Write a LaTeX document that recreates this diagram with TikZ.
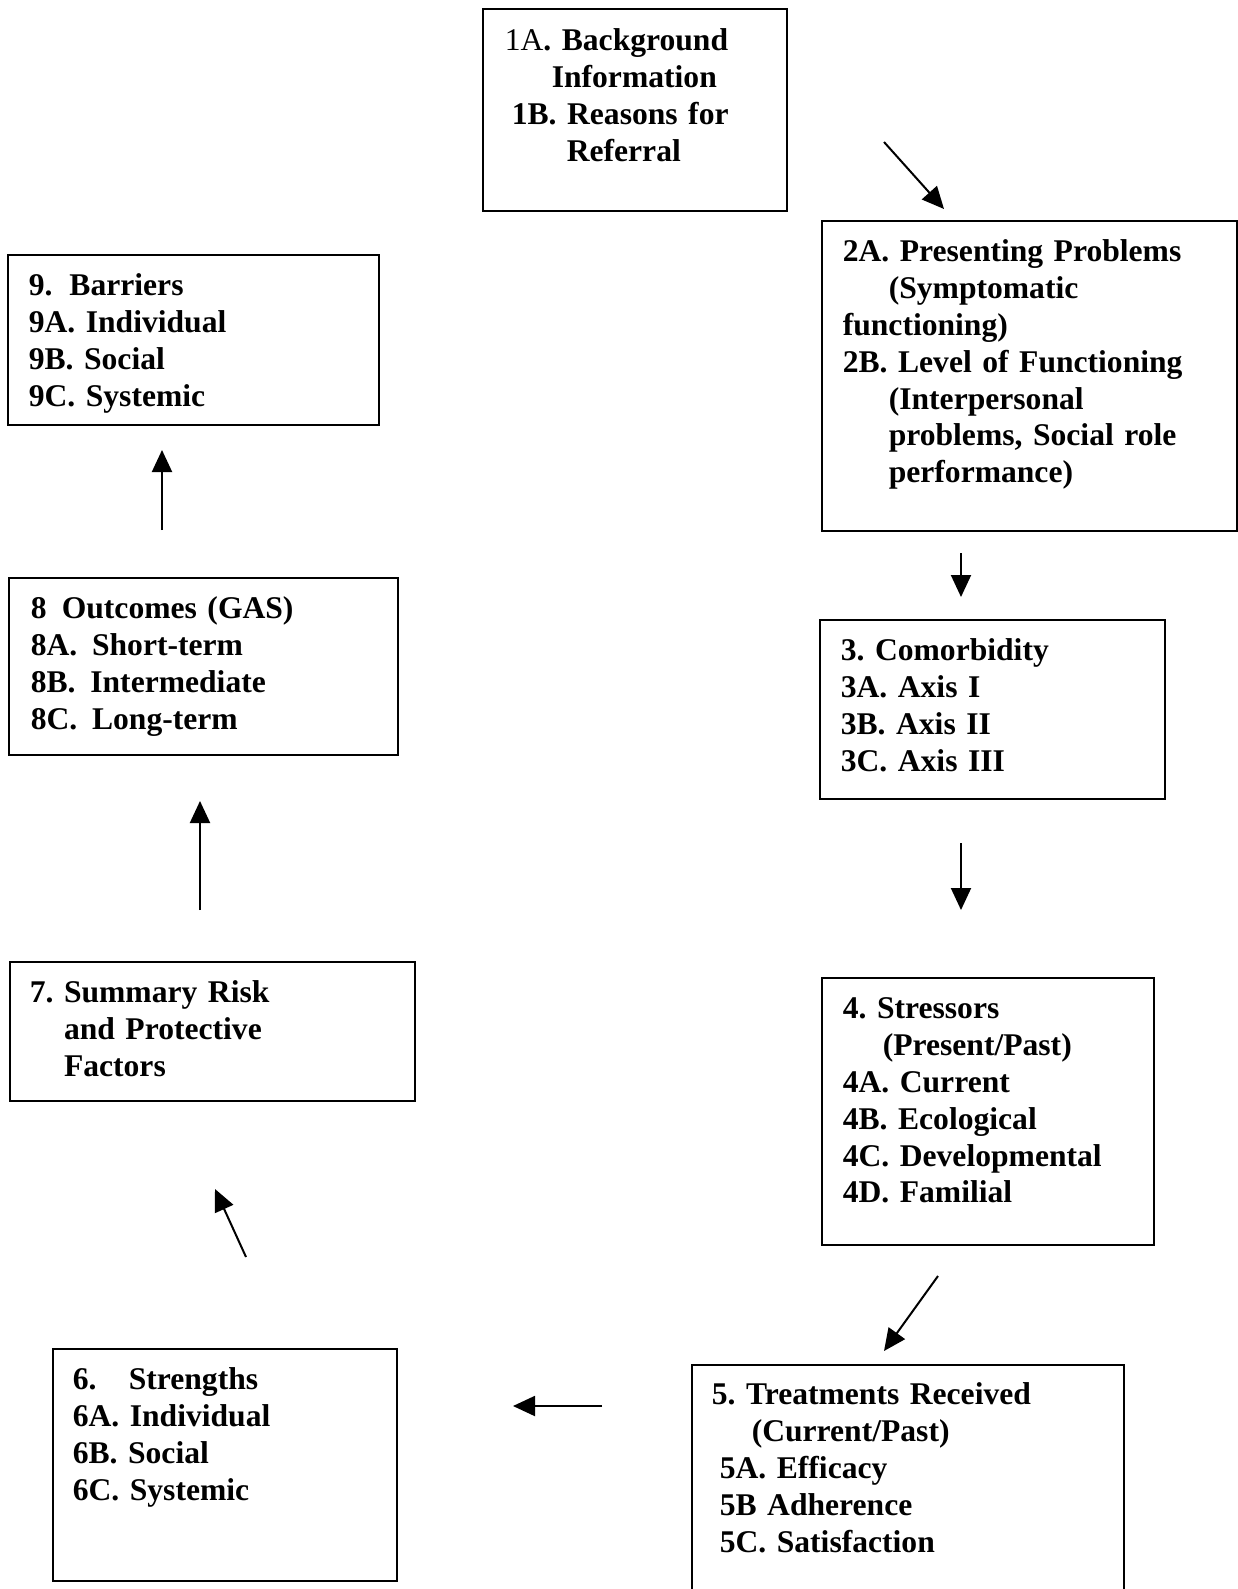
\documentclass[tikz,border=0pt]{standalone}
\usepackage{fontspec}
\setmainfont{Liberation Serif}
\usetikzlibrary{arrows.meta}

\begin{document}
\begin{tikzpicture}[x=0.5pt, y=-0.5pt,
	box/.style={draw, line width=0.8pt, anchor=north west, align=left, inner ysep=0pt, text height=20.5pt,
		font=\fontsize{15.8}{18.4}\selectfont\bfseries\frenchspacing},
	arr/.style={line width=1pt, -{Triangle[length=11pt, width=10pt]}}]
	\useasboundingbox (0, 0) rectangle (1237, 1589);
	% boxes of the cycle
	\node[box, inner xsep=11pt, text width=130pt, text depth=80pt, text height=21pt] (b1) at (482, 8)
		{{\mdseries 1A}. Background\\ \hspace*{23.5pt}Information\\ \hspace*{3.5pt}1B. Reasons for\\ \hspace*{31pt}Referral};
	\node[box, inner xsep=10.5pt, text width=186.5pt, text depth=134.5pt] (b2) at (821, 220)
		{2A. Presenting Problems\\ \hspace*{23pt}(Symptomatic\\ functioning)\\ 2B. Level of Functioning\\ \hspace*{23pt}(Interpersonal\\ \hspace*{23pt}problems, Social role\\ \hspace*{23pt}performance)};
	\node[box, inner xsep=10.5pt, text width=151.5pt, text depth=69pt] (b3) at (819, 619)
		{3. Comorbidity\\ 3A. Axis I\\ 3B. Axis II\\ 3C. Axis III};
	\node[box, inner xsep=10.5pt, text width=145pt, text depth=113pt] (b4) at (821, 977)
		{4. Stressors\\ \hspace*{20pt}(Present/Past)\\ 4A. Current\\ 4B. Ecological\\ 4C. Developmental\\ 4D. Familial};
	\node[box, inner xsep=10pt, text width=196pt, text depth=108pt, text height=20pt] (b5) at (691, 1364)
		{5. Treatments Received\\ \hspace*{20pt}(Current/Past)\\ \hspace*{4pt}5A. Efficacy\\ \hspace*{4pt}5B Adherence\\ \hspace*{4pt}5C. Satisfaction};
	\node[box, inner xsep=10pt, text width=152pt, text depth=95.5pt] (b6) at (52, 1348)
		{\makebox[28pt][l]{6.}Strengths\\ 6A. Individual\\ 6B. Social\\ 6C. Systemic};
	\node[box, inner xsep=10pt, text width=182.5pt, text depth=49pt] (b7) at (9, 961)
		{7. Summary Risk\\ \hphantom{7.\ }and Protective\\ \hphantom{7.\ }Factors};
	\node[box, inner xsep=11pt, text width=172.5pt, text depth=68pt] (b8) at (8, 577)
		{\makebox[15.5pt][l]{8}Outcomes (GAS)\\ 8A.\hspace{7.4pt}Short-term\\ 8B.\hspace{7.4pt}Intermediate\\ 8C.\hspace{7.4pt}Long-term};
	\node[box, inner xsep=10.5pt, text width=164.5pt, text depth=64.5pt] (b9) at (7, 254)
		{9.\hspace{8.5pt}Barriers\\ 9A. Individual\\ 9B. Social\\ 9C. Systemic};
	% loose arrow ends
	\coordinate (a12s) at (884, 142);  \coordinate (a12e) at (944, 209);
	\coordinate (a23s) at (961, 553);  \coordinate (a23e) at (961, 597);
	\coordinate (a34s) at (961, 843);  \coordinate (a34e) at (961, 910);
	\coordinate (a45s) at (938, 1276); \coordinate (a45e) at (884, 1351);
	\coordinate (a56s) at (602, 1406); \coordinate (a56e) at (513, 1406);
	\coordinate (a67s) at (246, 1257); \coordinate (a67e) at (215, 1189);
	\coordinate (a78s) at (200, 910);  \coordinate (a78e) at (200, 801);
	\coordinate (a89s) at (162, 530);  \coordinate (a89e) at (162, 450);
	\draw[arr] (a12s) -- (a12e);
	\draw[arr] (a23s) -- (a23e);
	\draw[arr] (a34s) -- (a34e);
	\draw[arr] (a45s) -- (a45e);
	\draw[arr] (a56s) -- (a56e);
	\draw[arr] (a67s) -- (a67e);
	\draw[arr] (a78s) -- (a78e);
	\draw[arr] (a89s) -- (a89e);
\end{tikzpicture}
\end{document}
